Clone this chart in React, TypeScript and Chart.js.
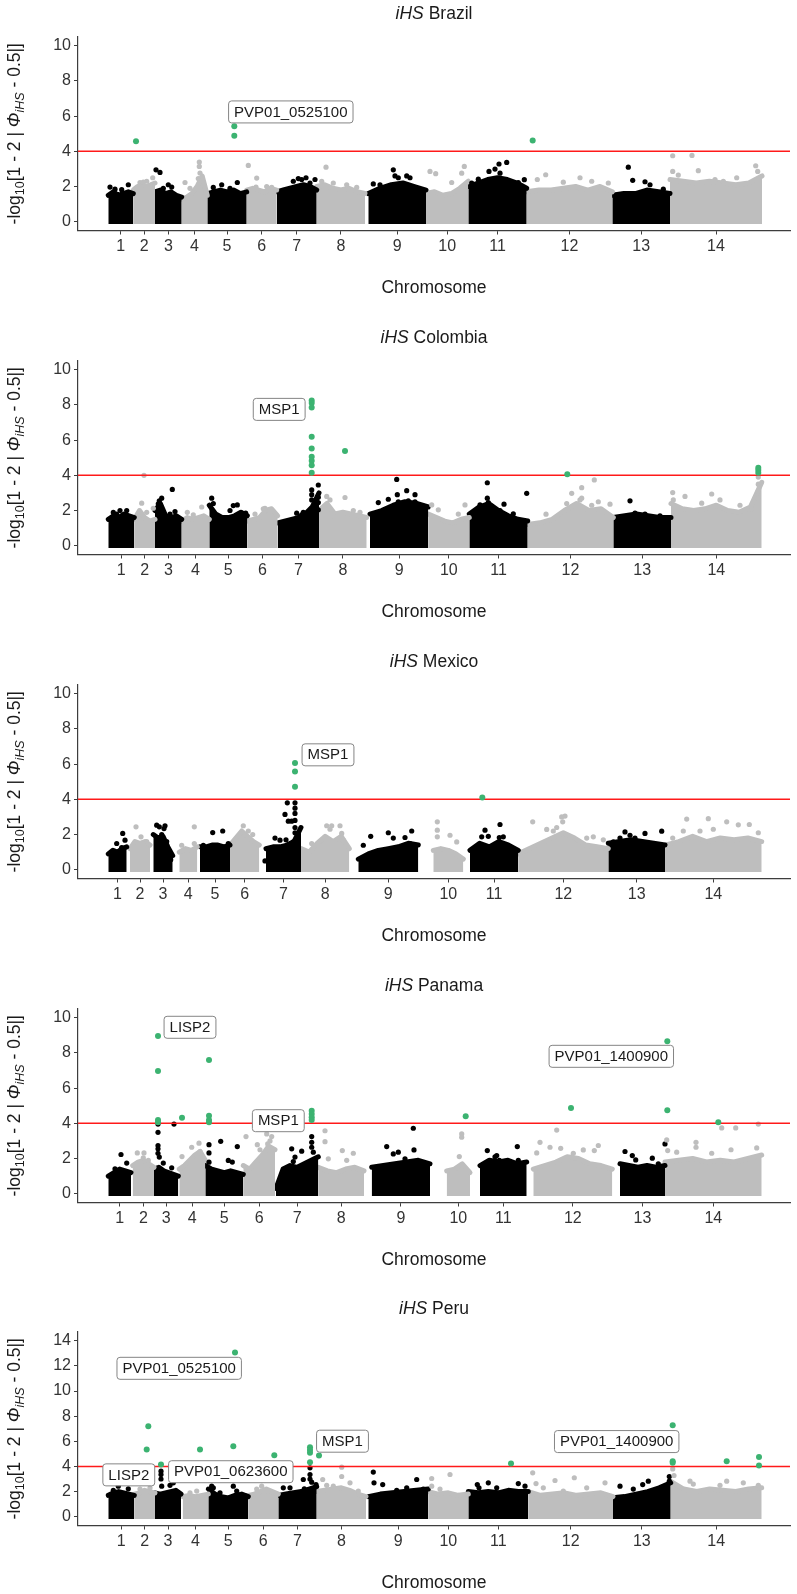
import React, { useEffect, useRef } from "react";
import { Chart, registerables } from "chart.js";

Chart.register(...registerables);

const FONT = "'Liberation Sans', Arial, Helvetica, sans-serif";
const BLACK = "#000000";
const GREY = "#bebebe";
const GREEN = "#3cb371";
const AXIS_COLOR = "#3d3d3d";
const TICK_TEXT = "#333333";
const TITLE_TEXT = "#1a1a1a";

const CHR_LABELS = ["1", "2", "3", "4", "5", "6", "7", "8", "9", "10", "11", "12", "13", "14"];
const X_MIN = 0;
const X_MAX = 712;
const THRESHOLD = 4;
const Y_TICKS_STD = [0, 2, 4, 6, 8, 10];
const Y_TICKS_PERU = [0, 2, 4, 6, 8, 10, 12, 14];

// ---------------- Brazil ----------------
const BRAZIL_CHR_START = [30.3, 55.3, 77, 103.7, 129.3, 168.7, 198.7, 238.7, 290.3, 348, 390.3, 448.7, 534.3, 592];
const BRAZIL_CHR_END = [55.3, 77, 103.7, 129.3, 168.7, 198.7, 238.7, 287, 348, 390.3, 448.7, 534.3, 592, 684];
const BRAZIL_ENVELOPE = [
  [1.5, 1.7, 1.5, 1.6, 1.7, 1.6],
  [1.8, 2.0, 2.1, 2.0, 2.1, 2.2],
  [1.7, 1.8, 1.6, 1.7, 1.5, 1.4],
  [1.3, 1.4, 1.6, 2.0, 2.6, 1.5],
  [1.6, 1.7, 1.8, 1.7, 1.8, 1.6, 1.7],
  [1.8, 1.9, 1.8, 1.7, 1.9, 1.8],
  [1.7, 1.8, 1.9, 2.0, 2.1, 2.0, 1.8],
  [2.0, 2.1, 1.9, 1.8, 1.9, 1.7, 1.6],
  [1.6, 1.9, 2.1, 2.2, 2.0, 1.8],
  [1.6, 1.7, 1.5, 1.6, 1.9, 2.3],
  [2.0, 2.2, 2.4, 2.5, 2.4, 2.2, 1.9],
  [1.7, 1.8, 1.8, 1.9, 2.0, 1.8, 2.0, 1.7],
  [1.5, 1.6, 1.6, 1.8, 1.7, 1.6],
  [2.4, 2.3, 2.2, 2.3, 2.2, 2.1, 2.2, 2.6],
];
const BRAZIL_DOTS: [number, number][] = [
  [32, 1.97], [43.7, 1.82], [50.3, 2.1], [37, 1.85],
  [62, 2.23], [68.7, 2.3], [74.7, 2.5], [65.3, 2.25],
  [78, 2.95], [82, 2.8], [90.3, 2.1], [93.7, 1.97], [85.3, 1.9],
  [107, 2.23], [121.3, 3.39], [121.3, 3.14], [122, 2.77], [120.3, 2.45], [112, 1.9],
  [143.7, 2.1], [159.3, 2.23], [135.3, 1.95], [152, 1.9],
  [170.3, 3.2], [178, 1.97], [178.7, 2.48], [188.7, 2.0], [193.7, 1.95],
  [215.3, 2.3], [223.7, 2.4], [228, 2.5], [237, 2.4], [220.3, 2.45], [232, 2.2],
  [248, 3.1], [243.7, 2.3], [255.3, 2.2], [268.7, 2.1], [278.7, 1.95],
  [295.3, 2.15], [302, 2.1], [315.3, 2.95], [317, 2.6], [320.3, 2.5], [328.7, 2.6], [332, 2.5], [343.7, 1.8],
  [352, 2.86], [357.7, 2.73], [373.7, 2.23], [386.3, 3.14], [383.7, 2.76],
  [400.3, 2.42], [411, 2.86], [417, 2.99], [421, 3.28], [422, 2.76], [428.7, 3.37], [446.3, 2.39], [440.3, 2.23], [393.7, 2.2],
  [467.7, 2.67], [459.3, 2.4], [485.3, 2.25], [502, 2.5], [513.7, 2.3], [530.3, 2.2],
  [550.3, 3.1], [554.7, 2.35], [567, 2.27], [572, 2.1], [585.3, 1.85],
  [594.7, 3.75], [614, 3.77], [620.3, 2.9], [677.7, 3.18], [679.7, 2.86], [594.7, 2.86], [600.3, 2.65], [637, 2.4], [645.3, 2.3], [658.7, 2.5],
];
const BRAZIL_HITS: [number, number][] = [[58, 4.58], [156.3, 5.42], [156.3, 4.89], [454.7, 4.62]];
const BRAZIL_LABELS = ["PVP01_0525100"];
const BRAZIL_LABEL_X = [212.8];
const BRAZIL_LABEL_Y = [6.24];

// ---------------- Colombia ----------------
const COLOMBIA_CHR_START = [30.3, 56.3, 77, 103.7, 131.3, 169.3, 199.7, 241, 292, 350.3, 391.3, 449.7, 535.3, 593];
const COLOMBIA_CHR_END = [56.3, 77, 103.7, 131.3, 169.3, 199.7, 241, 288.7, 350.3, 391.3, 449.7, 535.3, 593, 683.7];
const COLOMBIA_ENVELOPE = [
  [1.5, 1.7, 1.6, 1.8, 1.7, 1.6],
  [1.5, 2.0, 1.6, 1.4, 1.5],
  [2.0, 2.4, 1.7, 1.6, 1.7, 1.5],
  [1.4, 1.6, 1.5, 1.6, 1.7, 1.5],
  [2.3, 1.8, 1.6, 1.6, 1.7, 1.9, 1.7],
  [1.4, 1.5, 1.6, 2.0, 2.1, 1.7],
  [1.3, 1.4, 1.5, 1.6, 1.8, 2.2, 3.0],
  [2.0, 2.4, 1.8, 1.9, 1.8, 1.7, 1.6],
  [1.8, 2.0, 2.3, 2.5, 2.4, 2.2],
  [1.8, 1.6, 1.4, 1.3, 1.5, 1.6],
  [1.8, 2.2, 2.4, 2.0, 1.7, 1.5, 1.4],
  [1.2, 1.3, 1.5, 2.0, 2.4, 2.0, 2.1, 1.6],
  [1.6, 1.7, 1.8, 1.7, 1.6, 1.6],
  [2.4, 2.1, 2.0, 2.1, 2.3, 2.0, 1.9, 2.2, 3.6],
];
const COLOMBIA_DOTS: [number, number][] = [
  [35.3, 1.89], [42, 2.0], [48.7, 2.0], [38.7, 1.8],
  [63.7, 2.42], [66, 4.0], [75.3, 2.13], [68.7, 1.9],
  [83.7, 2.7], [80.3, 2.38], [94.3, 3.2], [97, 1.94], [81.3, 2.55], [92, 1.8],
  [109.3, 1.9], [123.7, 2.2], [115.3, 1.75],
  [133.7, 2.7], [135.3, 2.4], [155.3, 2.28], [159.3, 2.32], [167.7, 1.85], [152, 2.0],
  [187, 2.13], [185.3, 2.1], [177, 1.8],
  [233.7, 3.17], [233.7, 2.9], [233.7, 2.6], [240.3, 3.45], [240.3, 2.45], [240.3, 2.04], [240.3, 2.75], [218.7, 1.85], [223.7, 1.75], [225.3, 1.9],
  [248.7, 2.8], [252, 2.6], [267, 2.74], [255.3, 1.7], [275.3, 2.0], [282, 1.9],
  [300.3, 2.45], [310.3, 2.64], [318.7, 3.77], [319.3, 2.9], [320.3, 2.5], [328.7, 3.13], [337, 2.9], [337, 2.5], [330.3, 2.55], [342, 2.2],
  [353.7, 2.32], [360.3, 2.04], [387, 2.32], [380.3, 1.8],
  [409.3, 3.58], [409.3, 2.7], [402, 2.32], [426, 2.36], [435.3, 1.81], [448.7, 2.98], [410.3, 2.45], [422, 2.0],
  [468, 1.79], [493.7, 2.98], [503.7, 3.3], [516.3, 3.74], [502, 2.6], [520.3, 2.5], [532, 2.36], [503.7, 2.7], [488.7, 2.4], [513.7, 2.3],
  [552, 2.55], [557, 1.85], [582, 1.7], [567, 1.8],
  [594.7, 3.02], [607, 2.8], [633.7, 2.94], [623.7, 2.42], [595.3, 2.6], [642, 2.6], [662, 2.3], [673.7, 2.1],
  [680.3, 3.9], [680.3, 3.5], [680.3, 3.1], [680.3, 2.7],
];
const COLOMBIA_HITS: [number, number][] = [
  [233.7, 8.26], [233.7, 8.11], [233.7, 7.85], [233.7, 6.19], [233.7, 5.53], [233.7, 5.06], [233.7, 4.83], [233.7, 4.58], [233.7, 4.15],
  [267, 5.38], [489.3, 4.06], [680.3, 4.43], [680.3, 4.3], [680.3, 4.15],
];
const COLOMBIA_LABELS = ["MSP1"];
const COLOMBIA_LABEL_X = [201.2];
const COLOMBIA_LABEL_Y = [7.75];

// ---------------- Mexico ----------------
const MEXICO_CHR_START = [30.3, 52, 75.3, 101.3, 122, 152, 188, 223, 280.3, 355.3, 392, 440.3, 530.3, 587];
const MEXICO_CHR_END = [48.7, 72, 94.7, 119.3, 152, 181.3, 223, 271.3, 340.3, 385.3, 440.3, 530.3, 587, 683.7];
const MEXICO_ENVELOPE = [
  [0.9, 1.1, 1.0, 1.2, 1.3],
  [1.2, 1.6, 1.5, 1.6, 1.4],
  [2.0, 1.8, 1.9, 1.3, 0.8],
  [1.0, 1.2, 1.1, 1.3],
  [1.3, 1.3, 1.4, 1.4, 1.3, 1.4],
  [1.4, 1.8, 2.2, 1.9, 1.6, 1.4],
  [1.2, 1.3, 1.3, 1.4, 1.6, 2.4],
  [1.2, 1.0, 1.5, 1.9, 1.6, 1.9, 1.2],
  [0.6, 0.9, 1.1, 1.2, 1.3, 1.5, 1.4],
  [1.1, 1.2, 1.1, 0.9, 0.6],
  [1.1, 1.5, 1.3, 1.6, 1.4, 1.1],
  [0.9, 1.2, 1.5, 1.8, 2.1, 1.8, 1.4, 1.3, 1.2],
  [1.5, 1.6, 1.7, 1.6, 1.5, 1.4],
  [1.4, 1.6, 1.9, 1.6, 1.8, 1.7, 1.8, 1.6],
];
const MEXICO_DOTS: [number, number][] = [
  [38.7, 1.49], [43.7, 1.26], [44.7, 2.06], [47, 1.68],
  [58, 2.44], [63, 1.87], [68.7, 1.6],
  [78.7, 2.53], [81.3, 2.44], [86, 2.34], [87, 2.5], [88.7, 1.6], [92.7, 0.57], [83.7, 2.0],
  [103.7, 1.39], [116.3, 2.44], [116.3, 1.49],
  [134.7, 2.11], [144.7, 2.2], [125.3, 1.39], [150.3, 1.49],
  [174.7, 2.0], [165.3, 2.5], [170.3, 2.2],
  [187, 0.5], [217, 3.8], [217, 3.5], [217, 3.2], [217, 2.8], [209.3, 3.8], [207, 3.14], [210.3, 2.76], [213.7, 2.76],
  [197, 1.8], [202, 1.68], [208, 1.7], [215.3, 1.58], [217, 2.4], [217, 2.1],
  [233.7, 1.49], [248.7, 2.5], [253.7, 2.5], [262, 2.5], [263.7, 2.06], [265.3, 1.68], [252, 2.3],
  [285.3, 1.39], [292.7, 1.9], [310.3, 2.1], [327, 1.83], [333.7, 2.2], [332, 1.49], [315.3, 1.8],
  [359.3, 2.72], [359.3, 2.25], [359.3, 1.87], [372, 1.96], [378.7, 1.58],
  [407, 2.25], [403.7, 1.87], [422, 2.57], [421.3, 1.83], [425.3, 1.87], [435.3, 1.07], [437, 1.0], [410.3, 1.9],
  [454.7, 2.72], [468.7, 2.29], [478.7, 2.4], [483.7, 3.0], [487, 3.05], [484.7, 2.72], [515.3, 1.87], [525.3, 1.7], [508.7, 1.8], [475.3, 2.2],
  [547, 2.15], [552, 1.96], [567, 2.06], [583.7, 2.19], [535.3, 1.58], [542, 1.8], [557, 1.8],
  [608.7, 2.88], [630.3, 2.9], [648.7, 2.72], [671.3, 2.57], [680.3, 2.1], [605.3, 2.2], [594.7, 1.8], [660.3, 2.55], [635.3, 2.3], [622, 2.2],
];
const MEXICO_HITS: [number, number][] = [[217, 6.06], [217, 5.58], [217, 4.72], [404.3, 4.1]];
const MEXICO_LABELS = ["MSP1"];
const MEXICO_LABEL_X = [250];
const MEXICO_LABEL_Y = [6.53];

// ---------------- Panama ----------------
const PANAMA_CHR_START = [30.3, 54.7, 76, 101.3, 127.3, 165.3, 198, 240.3, 293.7, 368.7, 402, 455.3, 542, 587];
const PANAMA_CHR_END = [53, 76, 100.3, 127.3, 165.3, 197, 240.3, 286, 352, 392, 448.7, 534.3, 587, 683.7];
const PANAMA_ENVELOPE = [
  [1.0, 1.2, 1.4, 1.3, 1.2],
  [1.6, 1.8, 1.9, 1.7, 1.5],
  [1.4, 1.5, 1.3, 1.2, 1.1, 1.0],
  [1.4, 1.6, 1.9, 2.2, 2.4, 1.9],
  [1.6, 1.4, 1.3, 1.2, 1.3, 1.2, 1.1],
  [1.6, 1.4, 1.8, 2.2, 2.7, 2.5],
  [0.3, 1.4, 1.6, 1.5, 1.7, 1.9, 2.1],
  [1.5, 1.3, 1.2, 1.4, 1.5, 1.3],
  [1.5, 1.6, 1.7, 1.8, 1.9, 1.7],
  [1.3, 1.4, 1.7, 1.2],
  [1.6, 1.9, 1.8, 1.9, 1.7, 1.8],
  [1.4, 1.6, 1.8, 2.1, 2.0, 1.7, 1.6, 1.4],
  [1.7, 1.6, 1.5, 1.6, 1.5, 1.6],
  [1.8, 1.9, 2.0, 1.8, 1.9, 1.8, 2.0, 2.2],
];
const PANAMA_DOTS: [number, number][] = [
  [43, 2.23], [48.7, 1.74], [37, 1.42],
  [59.3, 2.32], [66, 2.32], [65.3, 2.04], [70.3, 1.89],
  [80, 3.96], [80, 3.49], [80, 2.74], [80, 2.55], [81.3, 2.08], [96, 3.96], [85.3, 1.74], [93.7, 1.47], [80, 2.3],
  [104, 2.11], [113.7, 2.64], [121, 2.87], [122, 2.4], [118.7, 2.2],
  [131, 2.79], [131, 2.32], [131, 1.79], [142.7, 2.98], [159.3, 2.68], [150.3, 1.89], [154.3, 1.8],
  [168, 3.25], [179.3, 2.79], [188.7, 3.4], [193.7, 3.25], [189.7, 2.83], [182, 2.5], [192, 3.0],
  [204.7, 0.66], [213.7, 2.55], [215.3, 1.83], [223.7, 2.42], [233.7, 3.25], [233.7, 2.92], [233.7, 2.64], [235.3, 2.36], [217, 2.08],
  [247, 3.58], [247, 2.96], [250.3, 1.98], [264.3, 2.45], [275.3, 2.3], [268.7, 1.9],
  [308.7, 2.68], [315.3, 2.26], [320.3, 2.36], [335.3, 3.72], [336, 2.49], [327, 1.98],
  [383.7, 3.4], [383.7, 3.21], [381.3, 2.11],
  [409.3, 2.45], [418.7, 2.17], [421.3, 1.89], [439.3, 2.68], [440.3, 1.89], [417, 2.1],
  [462, 2.92], [478.7, 3.62], [472, 2.64], [482.7, 2.58], [493.7, 2.08], [505.3, 2.49], [516.3, 2.45], [520.3, 2.74], [458.7, 2.32], [495.3, 2.3],
  [547, 2.4], [554.3, 2.17], [557.7, 1.92], [574.3, 2.02], [580.3, 1.7], [587, 2.83],
  [588.7, 3.06], [589.7, 2.45], [598.7, 2.36], [618, 2.92], [618, 2.64], [643.7, 3.74], [657.7, 3.74], [680.3, 3.96], [653, 2.5], [633.7, 2.3], [678.7, 2.6],
];
const PANAMA_HITS: [number, number][] = [
  [80, 8.96], [80, 6.98], [80, 4.19], [80, 4.06], [104, 4.32],
  [131, 7.6], [131, 4.43], [131, 4.19], [131, 4.06],
  [233.7, 4.72], [233.7, 4.53], [233.7, 4.34], [233.7, 4.19],
  [387.7, 4.4], [493, 4.87], [589.3, 8.66], [589.3, 4.75], [640.3, 4.06],
];
const PANAMA_LABELS = ["LISP2", "MSP1", "PVP01_1400900"];
const PANAMA_LABEL_X = [112, 200.3, 533.3];
const PANAMA_LABEL_Y = [9.46, 4.15, 7.81];

// ---------------- Peru ----------------
const PERU_CHR_START = [30.3, 56.3, 77, 104.7, 130.3, 170.3, 200.3, 238.7, 290.3, 350.3, 390.3, 450.3, 535, 592.7];
const PERU_CHR_END = [56.3, 77, 103, 130.3, 170.3, 200.3, 238.7, 288, 350.3, 390.3, 450.3, 535, 592.7, 683.7];
const PERU_ENVELOPE = [
  [1.7, 1.9, 2.0, 1.9, 1.8, 1.7],
  [1.8, 1.9, 2.1, 2.0, 1.9],
  [1.9, 1.8, 1.9, 2.0, 2.1, 1.8],
  [1.6, 1.7, 1.6, 1.7, 1.8],
  [2.2, 1.8, 1.6, 1.5, 1.7, 1.8, 1.6],
  [1.7, 1.8, 2.0, 2.2, 2.0, 1.8],
  [1.7, 1.8, 1.9, 2.0, 2.2, 2.4],
  [2.0, 2.1, 2.2, 2.3, 2.1, 1.8, 1.6],
  [1.6, 1.8, 1.9, 2.0, 2.1, 2.2],
  [2.0, 1.8, 1.9, 1.7, 1.8],
  [2.0, 1.9, 2.0, 1.9, 2.1, 2.0, 2.0],
  [2.0, 1.7, 1.8, 1.9, 1.7, 1.8, 1.9, 1.6],
  [1.5, 1.6, 1.8, 2.0, 2.3, 2.7],
  [2.8, 2.2, 2.0, 2.2, 2.1, 2.0, 2.2, 2.3],
];
const PERU_DOTS: [number, number][] = [
  [40.3, 2.43], [50.3, 2.22], [35.3, 2.1],
  [62, 2.2], [72, 2.3],
  [83, 3.36], [83, 3.62], [83.7, 2.43], [95.3, 2.7], [92, 2.5], [83, 3.0],
  [118.7, 2.04], [112, 1.9],
  [133.7, 2.43], [135.3, 2.3], [158.7, 2.04], [155.3, 2.43], [167.7, 1.64], [142, 1.9],
  [183.7, 2.43], [190.3, 2.0], [178.7, 2.2],
  [205.3, 2.3], [212, 2.3], [225.3, 2.96], [226.3, 2.22], [232, 3.36], [232, 3.89], [233.7, 2.75], [238, 2.56], [232, 3.0],
  [244.7, 2.96], [263.7, 3.94], [263.7, 3.2], [272, 2.7], [280.3, 2.04], [255.3, 2.43], [248.7, 2.5],
  [295.3, 3.55], [296, 2.7], [304.7, 2.56], [318.7, 2.1], [338.7, 2.96], [328.7, 2.3], [345.3, 2.2],
  [353.7, 3.04], [372, 3.36], [353.7, 2.43], [362, 2.2],
  [399.3, 2.56], [401, 2.3], [410.3, 2.7], [440.3, 2.64], [447, 2.43], [418.7, 2.3],
  [454.7, 3.49], [458, 2.64], [477, 2.88], [496.3, 3.1], [485.3, 2.04], [527, 2.7], [508.7, 2.3], [465.3, 2.3],
  [542, 2.43], [564.7, 2.56], [570.3, 2.83], [591.3, 2.83], [591.3, 3.2], [555.3, 2.2],
  [594.7, 3.8], [596, 3.28], [612, 2.83], [615.3, 2.6], [648.7, 2.83], [665.3, 2.7], [642, 2.5], [680.3, 2.5],
];
const PERU_HITS: [number, number][] = [
  [68.7, 5.34], [70.3, 7.2], [83, 4.15], [122, 5.34], [155.3, 5.6], [157, 13.07], [196.3, 4.89],
  [232, 5.53], [232, 5.3], [232, 5.08], [232, 4.34], [241, 4.87], [433, 4.23],
  [594.7, 7.28], [594.7, 4.42], [594.7, 4.29], [648.7, 4.42], [681, 4.76], [681, 4.07],
];
const PERU_LABELS = ["PVP01_0525100", "LISP2", "PVP01_0623600", "MSP1", "PVP01_1400900"];
const PERU_LABEL_X = [101.2, 50.8, 152.8, 264.5, 538.7];
const PERU_LABEL_Y = [11.81, 3.33, 3.58, 6.01, 5.98];

type PanelCfg = {
  country: string;
  start: number[];
  end: number[];
  envelope: number[][];
  dots: [number, number][];
  hits: [number, number][];
  labels: string[];
  labelX: number[];
  labelY: number[];
  yMin: number;
  yMax: number;
  yTicks: number[];
  height: number;
};

const PANELS: PanelCfg[] = [
  { country: "Brazil", start: BRAZIL_CHR_START, end: BRAZIL_CHR_END, envelope: BRAZIL_ENVELOPE, dots: BRAZIL_DOTS, hits: BRAZIL_HITS, labels: BRAZIL_LABELS, labelX: BRAZIL_LABEL_X, labelY: BRAZIL_LABEL_Y, yMin: -0.5, yMax: 10.5, yTicks: Y_TICKS_STD, height: 324 },
  { country: "Colombia", start: COLOMBIA_CHR_START, end: COLOMBIA_CHR_END, envelope: COLOMBIA_ENVELOPE, dots: COLOMBIA_DOTS, hits: COLOMBIA_HITS, labels: COLOMBIA_LABELS, labelX: COLOMBIA_LABEL_X, labelY: COLOMBIA_LABEL_Y, yMin: -0.5, yMax: 10.5, yTicks: Y_TICKS_STD, height: 324 },
  { country: "Mexico", start: MEXICO_CHR_START, end: MEXICO_CHR_END, envelope: MEXICO_ENVELOPE, dots: MEXICO_DOTS, hits: MEXICO_HITS, labels: MEXICO_LABELS, labelX: MEXICO_LABEL_X, labelY: MEXICO_LABEL_Y, yMin: -0.5, yMax: 10.5, yTicks: Y_TICKS_STD, height: 324 },
  { country: "Panama", start: PANAMA_CHR_START, end: PANAMA_CHR_END, envelope: PANAMA_ENVELOPE, dots: PANAMA_DOTS, hits: PANAMA_HITS, labels: PANAMA_LABELS, labelX: PANAMA_LABEL_X, labelY: PANAMA_LABEL_Y, yMin: -0.5, yMax: 10.5, yTicks: Y_TICKS_STD, height: 323 },
  { country: "Peru", start: PERU_CHR_START, end: PERU_CHR_END, envelope: PERU_ENVELOPE, dots: PERU_DOTS, hits: PERU_HITS, labels: PERU_LABELS, labelX: PERU_LABEL_X, labelY: PERU_LABEL_Y, yMin: -0.7, yMax: 14.7, yTicks: Y_TICKS_PERU, height: 299 },
];

const PLOT_TOP = 37;
const PLOT_BOTTOM = 230.5;
const X_AXIS_H = 30;
const Y_AXIS_W = 78;
const RIGHT_PAD = 7;

function chrIndexOf(x: number, ends: number[]): number {
  for (let i = 0; i < ends.length; i++) if (x <= ends[i]) return i;
  return ends.length - 1;
}

function drawYTitle(ctx: CanvasRenderingContext2D, cx: number, cy: number) {
  const main = `17.5px ${FONT}`;
  const sub = `12.5px ${FONT}`;
  const parts = [
    { t: "-log", f: main, dy: 0 },
    { t: "10", f: sub, dy: 4 },
    { t: "[1 - 2 | ", f: main, dy: 0 },
    { t: "\u03A6", f: `italic 17.5px ${FONT}`, dy: 0 },
    { t: "iHS", f: `italic 12.5px ${FONT}`, dy: 4 },
    { t: " - 0.5|]", f: main, dy: 0 },
  ];
  ctx.save();
  ctx.translate(cx, cy);
  ctx.rotate(-Math.PI / 2);
  ctx.fillStyle = TITLE_TEXT;
  ctx.textBaseline = "alphabetic";
  ctx.textAlign = "left";
  let total = 0;
  const widths = parts.map((p) => {
    ctx.font = p.f;
    const w = ctx.measureText(p.t).width;
    total += w;
    return w;
  });
  let x = -total / 2;
  parts.forEach((p, i) => {
    ctx.font = p.f;
    ctx.fillText(p.t, x, p.dy);
    x += widths[i];
  });
  ctx.restore();
}

function drawTitle(ctx: CanvasRenderingContext2D, cx: number, baseline: number, country: string) {
  const it = `italic 17.5px ${FONT}`;
  const rg = `17.5px ${FONT}`;
  ctx.save();
  ctx.fillStyle = TITLE_TEXT;
  ctx.textBaseline = "alphabetic";
  ctx.textAlign = "left";
  ctx.font = it;
  const w1 = ctx.measureText("iHS").width;
  ctx.font = rg;
  const w2 = ctx.measureText(" " + country).width;
  const x = cx - (w1 + w2) / 2;
  ctx.font = it;
  ctx.fillText("iHS", x, baseline);
  ctx.font = rg;
  ctx.fillText(" " + country, x + w1, baseline);
  ctx.restore();
}

function roundRect(ctx: CanvasRenderingContext2D, x: number, y: number, w: number, h: number, r: number) {
  ctx.beginPath();
  ctx.moveTo(x + r, y);
  ctx.lineTo(x + w - r, y);
  ctx.arcTo(x + w, y, x + w, y + r, r);
  ctx.lineTo(x + w, y + h - r);
  ctx.arcTo(x + w, y + h, x + w - r, y + h, r);
  ctx.lineTo(x + r, y + h);
  ctx.arcTo(x, y + h, x, y + h - r, r);
  ctx.lineTo(x, y + r);
  ctx.arcTo(x, y, x + r, y, r);
  ctx.closePath();
}

function buildConfig(cfg: PanelCfg): any {
  const base = -0.0119 * (cfg.yMax - cfg.yMin);
  const datasets: any[] = [];
  cfg.envelope.forEach((vals, i) => {
    const s = cfg.start[i];
    const e = cfg.end[i];
    const c = i % 2 === 0 ? BLACK : GREY;
    datasets.push({
      type: "line",
      data: vals.map((v, k) => ({ x: s + ((e - s) * k) / (vals.length - 1), y: v })),
      borderColor: c,
      backgroundColor: c,
      borderWidth: 5,
      borderJoinStyle: "round",
      borderCapStyle: "round",
      pointRadius: 0,
      tension: 0,
      fill: { value: base },
      order: 3,
    });
  });
  const dotColors = cfg.dots.map(([x]) => (chrIndexOf(x, cfg.end) % 2 === 0 ? BLACK : GREY));
  datasets.push({
    type: "scatter",
    data: cfg.dots.map(([x, y]) => ({ x, y })),
    backgroundColor: dotColors,
    borderColor: dotColors,
    borderWidth: 0,
    pointRadius: 2.6,
    order: 2,
  });
  datasets.push({
    type: "line",
    data: [
      { x: X_MIN, y: THRESHOLD },
      { x: X_MAX, y: THRESHOLD },
    ],
    borderColor: "#ff1a1a",
    borderWidth: 1.5,
    pointRadius: 0,
    fill: false,
    order: 1,
  });
  datasets.push({
    type: "scatter",
    data: cfg.hits.map(([x, y]) => ({ x, y })),
    backgroundColor: GREEN,
    borderColor: GREEN,
    borderWidth: 0,
    pointRadius: 3,
    order: 0,
  });

  const mids = cfg.start.map((s, i) => (s + cfg.end[i]) / 2);

  const decor = {
    id: "decor",
    afterDatasetsDraw(chart: any) {
      const ctx = chart.ctx as CanvasRenderingContext2D;
      const xs = chart.scales.x;
      const ys = chart.scales.y;
      ctx.save();
      ctx.font = `15px ${FONT}`;
      cfg.labels.forEach((t, i) => {
        const px = xs.getPixelForValue(cfg.labelX[i]);
        const py = ys.getPixelForValue(cfg.labelY[i]);
        const w = ctx.measureText(t).width + 11;
        const h = 22;
        roundRect(ctx, px - w / 2, py - h / 2, w, h, 3);
        ctx.fillStyle = "#ffffff";
        ctx.fill();
        ctx.lineWidth = 1;
        ctx.strokeStyle = "#858585";
        ctx.stroke();
        ctx.fillStyle = TITLE_TEXT;
        ctx.textAlign = "center";
        ctx.textBaseline = "middle";
        ctx.fillText(t, px, py + 0.5);
      });
      ctx.restore();
    },
    afterDraw(chart: any) {
      const ctx = chart.ctx as CanvasRenderingContext2D;
      const a = chart.chartArea;
      const cx = (a.left + a.right) / 2;
      drawTitle(ctx, cx, 18.8, cfg.country);
      ctx.save();
      ctx.fillStyle = TITLE_TEXT;
      ctx.font = `17.5px ${FONT}`;
      ctx.textAlign = "center";
      ctx.textBaseline = "alphabetic";
      ctx.fillText("Chromosome", cx, a.bottom + 62.8);
      ctx.restore();
      drawYTitle(ctx, 19.5, (a.top + a.bottom) / 2);
    },
  };

  const tickFont = { family: FONT, size: 16 };

  return {
    type: "scatter",
    data: { datasets },
    options: {
      responsive: false,
      maintainAspectRatio: false,
      animation: false,
      devicePixelRatio: 1,
      events: [],
      layout: {
        padding: { top: PLOT_TOP, left: 0, right: RIGHT_PAD, bottom: cfg.height - PLOT_BOTTOM - X_AXIS_H },
      },
      plugins: {
        legend: { display: false },
        tooltip: { enabled: false },
        title: { display: false },
      },
      scales: {
        x: {
          type: "linear",
          min: X_MIN,
          max: X_MAX,
          afterFit: (s: any) => {
            s.height = X_AXIS_H;
          },
          afterBuildTicks: (s: any) => {
            s.ticks = mids.map((v) => ({ value: v }));
          },
          ticks: {
            autoSkip: false,
            maxRotation: 0,
            minRotation: 0,
            padding: 2.5,
            color: TICK_TEXT,
            font: tickFont,
            callback: (_v: any, i: number) => CHR_LABELS[i],
          },
          grid: { display: true, drawOnChartArea: false, drawTicks: true, tickLength: 4, color: AXIS_COLOR, lineWidth: 1 },
          border: { display: true, color: AXIS_COLOR, width: 1.2 },
        },
        y: {
          type: "linear",
          min: cfg.yMin,
          max: cfg.yMax,
          afterFit: (s: any) => {
            s.width = Y_AXIS_W;
          },
          afterBuildTicks: (s: any) => {
            s.ticks = cfg.yTicks.map((v) => ({ value: v }));
          },
          ticks: {
            padding: 3,
            color: TICK_TEXT,
            font: tickFont,
            callback: (v: any) => String(v),
          },
          grid: { display: true, drawOnChartArea: false, drawTicks: true, tickLength: 4, color: AXIS_COLOR, lineWidth: 1 },
          border: { display: true, color: AXIS_COLOR, width: 1.2 },
        },
      },
    },
    plugins: [decor],
  };
}

function ManhattanPanel({ cfg }: { cfg: PanelCfg }) {
  const ref = useRef<HTMLCanvasElement | null>(null);
  useEffect(() => {
    const canvas = ref.current;
    if (!canvas) return;
    const chart = new Chart(canvas, buildConfig(cfg));
    return () => chart.destroy();
  }, [cfg]);
  return (
    <div style={{ width: 797, height: cfg.height, position: "relative" }}>
      <canvas ref={ref} width={797} height={cfg.height} style={{ display: "block", width: 797, height: cfg.height }} />
    </div>
  );
}

export default function App() {
  useEffect(() => {
    document.body.style.margin = "0";
    document.body.style.background = "#ffffff";
  }, []);
  return (
    <div style={{ width: 797, background: "#ffffff" }}>
      <style>{"body{margin:0;background:#fff;}"}</style>
      {PANELS.map((p) => (
        <ManhattanPanel key={p.country} cfg={p} />
      ))}
    </div>
  );
}
